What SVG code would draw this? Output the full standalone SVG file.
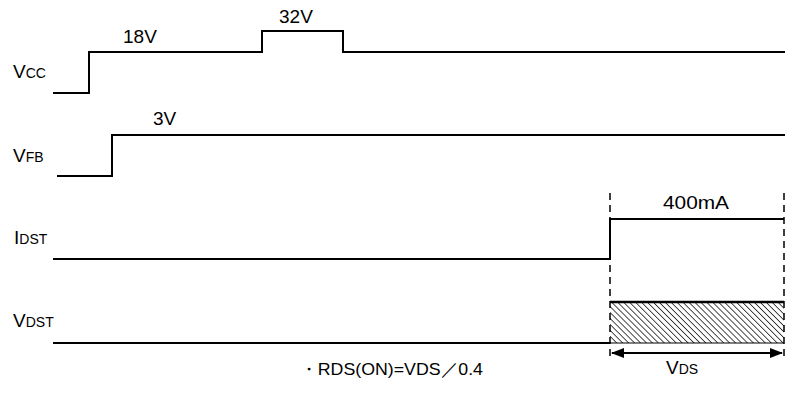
<svg xmlns="http://www.w3.org/2000/svg" width="795" height="393" viewBox="0 0 795 393">
<defs>
<style>
.w{fill:none;stroke:#000;stroke-width:2}
.d{fill:none;stroke:#000;stroke-width:1.5;stroke-dasharray:7,5}
text{font-family:"Liberation Sans",Arial,sans-serif;fill:#000}
.l{font-size:19px}
.s{font-size:14px}
</style>
<pattern id="hatch" width="4.2" height="4.2" patternUnits="userSpaceOnUse" patternTransform="rotate(-45)">
<line x1="0" y1="0" x2="0" y2="4.2" stroke="#000" stroke-width="1.4"/>
</pattern>
<marker id="ah" markerWidth="13" markerHeight="10" refX="12" refY="5" orient="auto-start-reverse" markerUnits="userSpaceOnUse">
<path d="M0,0 L13,5 L0,10 Z" fill="#000"/>
</marker>
</defs>
<rect width="795" height="393" fill="#fff"/>
<g id="vcc">
<text x="13" y="78" class="l">V<tspan class="s">CC</tspan></text>
<polyline class="w" points="53,93 89,93 89,52 262,52 262,31 343,31 343,52 785,52"/>
<text x="123" y="43" class="l">18V</text>
<text x="279" y="23" class="l">32V</text>
</g>
<g id="vfb">
<text x="13" y="162" class="l">V<tspan class="s">FB</tspan></text>
<polyline class="w" points="57,176 112,176 112,135 785,135"/>
<text x="153" y="125" class="l">3V</text>
</g>
<g id="idst">
<text x="14" y="244" class="l">I<tspan class="s">DST</tspan></text>
<polyline class="w" points="53,259 610,259 610,219 784,219"/>
<text x="663" y="209" class="l" textLength="66" lengthAdjust="spacingAndGlyphs">400mA</text>
</g>
<g id="vdst">
<text x="13" y="327" class="l">V<tspan class="s">DST</tspan></text>
<polyline class="w" points="53,343 610,343"/>
<rect x="610" y="302" width="174" height="41" fill="url(#hatch)" stroke="none"/>
<line x1="610" y1="302" x2="784" y2="302" stroke="#000" stroke-width="2.5"/>
<line x1="610" y1="343" x2="784" y2="343" stroke="#000" stroke-width="1"/>
</g>
<g id="connectors">
<line class="d" x1="610" y1="193" x2="610" y2="358"/>
<line class="d" x1="784" y1="193" x2="784" y2="358"/>
<line x1="612" y1="353" x2="782" y2="353" stroke="#000" stroke-width="2" marker-start="url(#ah)" marker-end="url(#ah)"/>
</g>
<g id="vds">
<text x="666" y="374" class="l">V<tspan class="s">DS</tspan></text>
</g>
<g id="note">
<text x="300" y="375" style="font-size:17px" textLength="183" lengthAdjust="spacingAndGlyphs">・RDS(ON)=VDS／0.4</text>
</g>
</svg>
